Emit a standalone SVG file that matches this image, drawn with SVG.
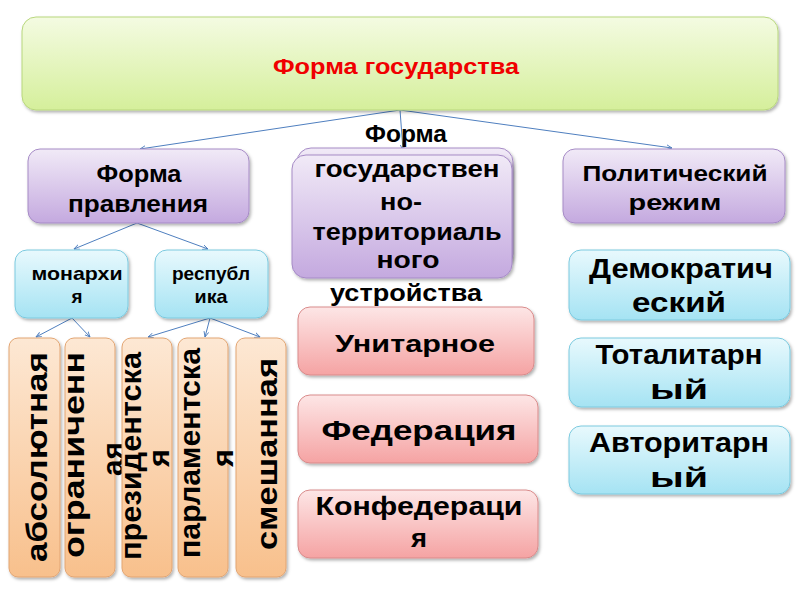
<svg xmlns="http://www.w3.org/2000/svg" width="800" height="600" viewBox="0 0 800 600">
<defs>
<linearGradient id="gGreen" x1="0" y1="0" x2="0" y2="1"><stop offset="0" stop-color="#f4fbe2"/><stop offset="1" stop-color="#d5ef9b"/></linearGradient>
<linearGradient id="gPurple" x1="0" y1="0" x2="0" y2="1"><stop offset="0" stop-color="#f1eaf7"/><stop offset="1" stop-color="#c4a9df"/></linearGradient>
<linearGradient id="gBlue" x1="0" y1="0" x2="0" y2="1"><stop offset="0" stop-color="#e8f9fd"/><stop offset="1" stop-color="#a5e3f3"/></linearGradient>
<linearGradient id="gPink" x1="0" y1="0" x2="0" y2="1"><stop offset="0" stop-color="#fde6e6"/><stop offset="1" stop-color="#f5a3a3"/></linearGradient>
<linearGradient id="gOrange" x1="0" y1="0" x2="0" y2="1"><stop offset="0" stop-color="#fde8d4"/><stop offset="1" stop-color="#f8c08c"/></linearGradient>
<filter id="sh" x="-10%" y="-10%" width="130%" height="130%"><feDropShadow dx="1.5" dy="2" stdDeviation="1.5" flood-color="#000" flood-opacity="0.3"/></filter>
<marker id="arr" viewBox="0 0 10 10" refX="9" refY="5" markerWidth="6" markerHeight="6" orient="auto"><path d="M0,1 L9,5 L0,9" fill="none" stroke="#4f7fbf" stroke-width="1.5"/></marker>
</defs>
<style>
.t{font-family:"Liberation Sans",Arial,sans-serif;font-weight:bold;fill:#000;text-anchor:middle}
.green{fill:url(#gGreen);stroke:#b8d77d;stroke-width:1}
.purple{fill:url(#gPurple);stroke:#a68bc6;stroke-width:1}
.blue{fill:url(#gBlue);stroke:#7ccadf;stroke-width:1}
.pink{fill:url(#gPink);stroke:#d98b8b;stroke-width:1}
.orange{fill:url(#gOrange);stroke:#e2a572;stroke-width:1}
.box{filter:url(#sh)}
.c{stroke:#4f7fbf;stroke-width:1;fill:none;marker-end:url(#arr)}
</style>
<rect width="800" height="600" fill="#fff"/>
<g id="connectors">
<line class="c" x1="400" y1="110" x2="140" y2="149"/>
<line class="c" x1="400" y1="110" x2="403" y2="150"/>
<line class="c" x1="400" y1="110" x2="672" y2="148"/>
<line class="c" x1="137" y1="223" x2="74" y2="249"/>
<line class="c" x1="137" y1="223" x2="208" y2="249"/>
<line class="c" x1="72" y1="318" x2="36" y2="337"/>
<line class="c" x1="72" y1="318" x2="90" y2="337"/>
<line class="c" x1="210" y1="318" x2="148" y2="337"/>
<line class="c" x1="210" y1="318" x2="205" y2="337"/>
<line class="c" x1="210" y1="318" x2="260" y2="337"/>
</g>
<g id="n-top"><rect class="green box" x="22" y="17" width="756" height="93" rx="14"/><text class="t" x="396" y="74" font-size="22" textLength="246" lengthAdjust="spacingAndGlyphs" style="fill:#f00000">Форма государства</text></g>
<g id="n-pravl"><rect class="purple box" x="28" y="149" width="221" height="74" rx="12"/><text class="t" x="139" y="182" font-size="24" textLength="85" lengthAdjust="spacingAndGlyphs">Форма</text><text class="t" x="138" y="212" font-size="24" textLength="140" lengthAdjust="spacingAndGlyphs">правления</text></g>
<g id="n-ustr"><rect class="purple box" x="297" y="148" width="216" height="120" rx="14"/><rect class="purple box" x="292" y="155" width="220" height="123" rx="14"/><text class="t" x="406" y="142" font-size="23" textLength="82" lengthAdjust="spacingAndGlyphs">Форма</text><text class="t" x="407" y="177" font-size="23" textLength="185" lengthAdjust="spacingAndGlyphs">государствен</text><text class="t" x="401" y="210" font-size="23" textLength="42" lengthAdjust="spacingAndGlyphs">но-</text><text class="t" x="407" y="240" font-size="23" textLength="189" lengthAdjust="spacingAndGlyphs">территориаль</text><text class="t" x="408" y="268" font-size="23" textLength="63" lengthAdjust="spacingAndGlyphs">ного</text><text class="t" x="406" y="301" font-size="23" textLength="152" lengthAdjust="spacingAndGlyphs">устройства</text></g>
<g id="n-rezhim"><rect class="purple box" x="563" y="149" width="222" height="74" rx="12"/><text class="t" x="675" y="181" font-size="22" textLength="185" lengthAdjust="spacingAndGlyphs">Политический</text><text class="t" x="675" y="210" font-size="22" textLength="93" lengthAdjust="spacingAndGlyphs">режим</text></g>
<g id="n-mon"><rect class="blue box" x="15" y="250" width="113" height="68" rx="12"/><text class="t" x="77" y="280" font-size="19" textLength="91" lengthAdjust="spacingAndGlyphs">монархи</text><text class="t" x="77" y="303" font-size="19" textLength="11" lengthAdjust="spacingAndGlyphs">я</text></g>
<g id="n-resp"><rect class="blue box" x="155" y="250" width="113" height="68" rx="12"/><text class="t" x="211" y="280" font-size="19" textLength="78" lengthAdjust="spacingAndGlyphs">республ</text><text class="t" x="211" y="303" font-size="19" textLength="33" lengthAdjust="spacingAndGlyphs">ика</text></g>
<g id="n-abs"><rect class="orange box" x="9" y="338" width="51" height="239" rx="9"/><text class="t" font-size="30" textLength="210" lengthAdjust="spacingAndGlyphs" transform="translate(47,457) rotate(-90)">абсолютная</text></g>
<g id="n-ogr"><rect class="orange box" x="65" y="338" width="50" height="239" rx="9"/><text class="t" font-size="30" textLength="206" lengthAdjust="spacingAndGlyphs" transform="translate(84,455) rotate(-90)">ограниченн</text><text class="t" font-size="30" textLength="34" lengthAdjust="spacingAndGlyphs" transform="translate(123,459) rotate(-90)">ая</text></g>
<g id="n-prez"><rect class="orange box" x="122" y="338" width="50" height="239" rx="9"/><text class="t" font-size="30" textLength="208" lengthAdjust="spacingAndGlyphs" transform="translate(141,456) rotate(-90)">президентска</text><text class="t" font-size="30" textLength="18" lengthAdjust="spacingAndGlyphs" transform="translate(169,458) rotate(-90)">я</text></g>
<g id="n-parl"><rect class="orange box" x="178" y="338" width="50" height="239" rx="9"/><text class="t" font-size="30" textLength="210" lengthAdjust="spacingAndGlyphs" transform="translate(200,453) rotate(-90)">парламентска</text><text class="t" font-size="30" textLength="18" lengthAdjust="spacingAndGlyphs" transform="translate(233,458) rotate(-90)">я</text></g>
<g id="n-smesh"><rect class="orange box" x="236" y="338" width="50" height="239" rx="9"/><text class="t" font-size="30" textLength="192" lengthAdjust="spacingAndGlyphs" transform="translate(277,454) rotate(-90)">смешанная</text></g>
<g id="n-unit"><rect class="pink box" x="298" y="307" width="236" height="68" rx="12"/><text class="t" x="415" y="352" font-size="24" textLength="160" lengthAdjust="spacingAndGlyphs">Унитарное</text></g>
<g id="n-fed"><rect class="pink box" x="298" y="395" width="240" height="68" rx="12"/><text class="t" x="419" y="440" font-size="28" textLength="195" lengthAdjust="spacingAndGlyphs">Федерация</text></g>
<g id="n-konf"><rect class="pink box" x="298" y="490" width="240" height="68" rx="12"/><text class="t" x="419" y="515" font-size="25" textLength="207" lengthAdjust="spacingAndGlyphs">Конфедераци</text><text class="t" x="419" y="547" font-size="25" textLength="16" lengthAdjust="spacingAndGlyphs">я</text></g>
<g id="n-dem"><rect class="blue box" x="569" y="250" width="221" height="70" rx="12"/><text class="t" x="681" y="278" font-size="28" textLength="184" lengthAdjust="spacingAndGlyphs">Демократич</text><text class="t" x="679" y="312" font-size="28" textLength="94" lengthAdjust="spacingAndGlyphs">еский</text></g>
<g id="n-tot"><rect class="blue box" x="569" y="338" width="221" height="69" rx="12"/><text class="t" x="679" y="364" font-size="27" textLength="167" lengthAdjust="spacingAndGlyphs">Тоталитарн</text><text class="t" x="679" y="399" font-size="27" textLength="58" lengthAdjust="spacingAndGlyphs">ый</text></g>
<g id="n-avt"><rect class="blue box" x="569" y="426" width="221" height="68" rx="12"/><text class="t" x="679" y="452" font-size="27" textLength="180" lengthAdjust="spacingAndGlyphs">Авторитарн</text><text class="t" x="679" y="487" font-size="27" textLength="58" lengthAdjust="spacingAndGlyphs">ый</text></g>
</svg>
